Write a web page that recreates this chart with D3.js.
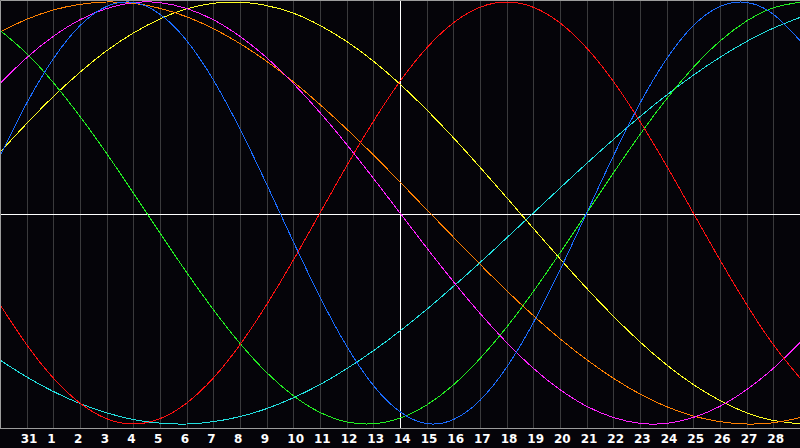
<!DOCTYPE html>
<html>
<head>
<meta charset="utf-8">
<script src="https://cdn.jsdelivr.net/npm/d3@7"></script>
<style>
  html, body { margin: 0; padding: 0; background: #050409; }
  svg { display: block; }
  .lbl { font-family: "DejaVu Sans", sans-serif; font-weight: bold; font-size: 12px; fill: #ffffff; }
</style>
</head>
<body>
<svg width="800" height="448"></svg>
<script>
let width = 800;
let height = 448;

// etiquetas dos dias (linhas de grade 1..29)
let dayLabels = ["31","1","2","3","4","5","6","7","8","9","10","11","12","13","14",
  "15","16","17","18","19","20","21","22","23","24","25","26","27","28"];

// valores, um por dia (0..30), escala -1..1
let physical = [0.270,0.520,0.731,0.888,0.979,0.998,0.942,0.817,0.631,0.398,0.136,
  -0.136,-0.398,-0.631,-0.817,-0.942,-0.998,-0.979,-0.888,-0.731,-0.520,-0.270,
  0.000,0.270,0.520,0.731,0.888,0.979,0.998,0.942,0.817];
let emotional = [-0.434,-0.624,-0.782,-0.901,-0.975,-1.000,-0.975,-0.901,-0.782,-0.624,-0.434,
  -0.223,0.000,0.223,0.434,0.624,0.782,0.901,0.975,1.000,0.975,0.901,0.782,0.624,
  0.434,0.223,0.000,-0.223,-0.434,-0.624,-0.782];
let intellectual = [0.866,0.756,0.618,0.458,0.282,0.095,-0.095,-0.282,-0.458,-0.618,-0.756,
  -0.866,-0.945,-0.990,-0.999,-0.972,-0.910,-0.815,-0.690,-0.541,-0.372,-0.189,
  0.000,0.189,0.372,0.541,0.690,0.815,0.910,0.972,0.999];
let intuitive = [0.614,0.736,0.837,0.916,0.969,0.997,0.997,0.969,0.916,0.837,0.736,
  0.614,0.476,0.325,0.165,0.000,-0.165,-0.325,-0.476,-0.614,-0.736,-0.837,-0.916,
  -0.969,-0.997,-0.997,-0.969,-0.916,-0.837,-0.736,-0.614];
let aesthetic = [0.288,0.424,0.552,0.667,0.769,0.853,0.920,0.968,0.994,0.999,0.983,
  0.947,0.889,0.813,0.720,0.611,0.489,0.357,0.217,0.073,-0.073,-0.217,-0.357,
  -0.489,-0.611,-0.720,-0.813,-0.889,-0.947,-0.983,-0.999];
let awareness = [0.858,0.918,0.962,0.989,1.000,0.994,0.970,0.930,0.874,0.803,0.719,
  0.622,0.514,0.398,0.275,0.147,0.016,-0.114,-0.243,-0.368,-0.486,-0.596,-0.695,
  -0.783,-0.858,-0.918,-0.962,-0.989,-1.000,-0.994,-0.970];
let spiritual = [-0.697,-0.777,-0.846,-0.903,-0.947,-0.979,-0.996,-1.000,-0.989,-0.965,-0.927,
  -0.876,-0.813,-0.738,-0.653,-0.559,-0.457,-0.348,-0.235,-0.118,0.000,0.118,
  0.235,0.348,0.457,0.559,0.653,0.738,0.813,0.876,0.927];

let series = [
  { values: spiritual, color: "#22e0e0" },
  { values: aesthetic, color: "#ffff22" },
  { values: awareness, color: "#ff8000" },
  { values: intuitive, color: "#ff22ff" },
  { values: intellectual, color: "#22ee22" },
  { values: emotional, color: "#ff1010" },
  { values: physical, color: "#1a6cff" }
];

let svg = d3.select("svg");

let x = d3.scaleLinear().domain([0, 30]).range([0, 800]);
let y = d3.scaleLinear().domain([-1, 1]).range([424, 2]);

// grade vertical
svg.append("g")
  .selectAll("line")
  .data(dayLabels)
  .enter()
  .append("line")
  .attr("x1", (d, i) => Math.round(x(i + 1)) + 0.5)
  .attr("x2", (d, i) => Math.round(x(i + 1)) + 0.5)
  .attr("y1", 0)
  .attr("y2", 428)
  .attr("stroke", "#3a3a3c")
  .attr("stroke-width", 1);

// linhas centrais
svg.append("line")
  .attr("x1", 0).attr("x2", 800)
  .attr("y1", 214.5).attr("y2", 214.5)
  .attr("stroke", "#ffffff");
svg.append("line")
  .attr("x1", Math.round(x(15)) + 0.5).attr("x2", Math.round(x(15)) + 0.5)
  .attr("y1", 0).attr("y2", 428)
  .attr("stroke", "#ffffff");

// curvas
let line = d3.line()
  .x((d, i) => x(i))
  .y(d => y(d))
  .curve(d3.curveNatural);

svg.append("g")
  .selectAll("path")
  .data(series)
  .enter()
  .append("path")
  .attr("d", d => line(d.values))
  .attr("fill", "none")
  .attr("stroke", d => d.color)
  .attr("stroke-width", 1)
  .attr("shape-rendering", "crispEdges");

// borda
svg.append("path")
  .attr("d", "M0.5,428.5 L0.5,0.5 L800,0.5 M0,428.5 L800,428.5")
  .attr("fill", "none")
  .attr("stroke", "#9c9c9c")
  .attr("stroke-width", 1);

// rotulos
svg.append("g")
  .selectAll("text")
  .data(dayLabels)
  .enter()
  .append("text")
  .attr("class", "lbl")
  .attr("x", (d, i) => x(i + 1) - 6)
  .attr("y", 443)
  .text(d => d);
</script>
</body>
</html>
